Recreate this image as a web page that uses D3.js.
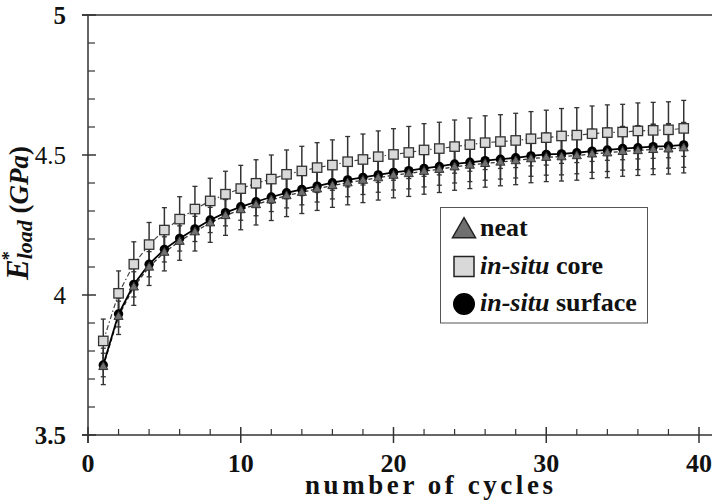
<!DOCTYPE html>
<html><head><meta charset="utf-8">
<script src="https://cdn.jsdelivr.net/npm/d3@7/dist/d3.min.js"></script>
<style>body{margin:0;background:#fff}svg{display:block}text{font-family:"Liberation Serif","Times New Roman",serif}</style>
</head><body>
<svg id="chart" width="712" height="501"></svg>
<script>
const cycles = d3.range(1, 40);
const neat = [3.745,3.924,4.029,4.100,4.153,4.192,4.226,4.258,4.284,4.305,4.323,4.340,4.355,4.367,4.379,4.391,4.401,4.410,4.419,4.428,4.434,4.442,4.449,4.458,4.464,4.470,4.475,4.480,4.487,4.492,4.494,4.498,4.504,4.508,4.513,4.516,4.520,4.522,4.526];
const neatErr = [0.065,0.065,0.066,0.066,0.067,0.068,0.069,0.070,0.071,0.072,0.073,0.074,0.075,0.076,0.077,0.078,0.079,0.080,0.080,0.081,0.082,0.082,0.083,0.084,0.084,0.085,0.085,0.086,0.086,0.087,0.087,0.088,0.088,0.089,0.089,0.089,0.090,0.090,0.090];
const core = [3.836,4.006,4.110,4.180,4.232,4.271,4.307,4.336,4.360,4.380,4.399,4.414,4.431,4.443,4.455,4.464,4.476,4.484,4.494,4.502,4.509,4.518,4.523,4.530,4.537,4.544,4.548,4.552,4.558,4.562,4.568,4.571,4.576,4.580,4.582,4.586,4.588,4.590,4.595];
const coreErr = [0.078,0.080,0.080,0.079,0.080,0.080,0.081,0.081,0.082,0.083,0.084,0.086,0.087,0.088,0.089,0.090,0.090,0.091,0.092,0.092,0.093,0.094,0.094,0.095,0.095,0.096,0.096,0.097,0.097,0.098,0.098,0.098,0.099,0.099,0.099,0.100,0.100,0.100,0.100];
const surface = [3.750,3.932,4.038,4.110,4.163,4.202,4.236,4.268,4.294,4.315,4.333,4.350,4.365,4.377,4.389,4.401,4.411,4.420,4.429,4.438,4.444,4.452,4.459,4.468,4.474,4.480,4.485,4.490,4.497,4.502,4.504,4.508,4.514,4.518,4.523,4.526,4.530,4.532,4.536];
const surfaceErr = [0.042,0.046,0.045,0.045,0.045,0.045,0.045,0.045,0.047,0.048,0.050,0.052,0.054,0.055,0.057,0.058,0.060,0.061,0.062,0.063,0.065,0.066,0.067,0.068,0.069,0.070,0.071,0.072,0.073,0.074,0.075,0.075,0.076,0.077,0.077,0.078,0.079,0.079,0.080];
const xMajor = [0,10,20,30,40];
const xMinor = [2,4,6,8,12,14,16,18,22,24,26,28,32,34,36,38];
const yMajor = [3.5,4,4.5,5];
const yMinor = [3.6,3.7,3.8,3.9,4.1,4.2,4.3,4.4,4.6,4.7,4.8,4.9];
const legendLabels = [["", "neat"], ["in-situ", " core"], ["in-situ", " surface"]];

const svg = d3.select("#chart");
const x = d3.scaleLinear().domain([0,40]).range([88,699]);
const y = d3.scaleLinear().domain([3.5,5]).range([435,15]);
const axisCol = "#333";

// frame lines
svg.append("line").attr("x1",82).attr("x2",712).attr("y1",y(5)).attr("y2",y(5)).attr("stroke",axisCol).attr("stroke-width",1.5);
svg.append("line").attr("x1",82).attr("x2",712).attr("y1",y(3.5)).attr("y2",y(3.5)).attr("stroke",axisCol).attr("stroke-width",1.5);
svg.append("line").attr("x1",x(0)).attr("x2",x(0)).attr("y1",y(5)).attr("y2",y(3.5)+8).attr("stroke",axisCol).attr("stroke-width",1.5);

// y ticks
svg.selectAll(".ymaj").data(yMajor).join("line").attr("x1",82).attr("x2",96).attr("y1",d=>y(d)).attr("y2",d=>y(d)).attr("stroke",axisCol).attr("stroke-width",1.5);
svg.selectAll(".ymin").data(yMinor).join("line").attr("x1",x(0)).attr("x2",x(0)+7).attr("y1",d=>y(d)).attr("y2",d=>y(d)).attr("stroke",axisCol).attr("stroke-width",1.2);
svg.selectAll(".ylab").data(yMajor).join("text").attr("x",66).attr("y",d=>y(d)+8.5).attr("text-anchor","end")
  .style("font-size","25px").style("font-weight",d=>(d===5||d===3.5)?"bold":"normal").attr("fill","#111").text(d=>d);

// x ticks
svg.selectAll(".xmaj").data(xMajor).join("line").attr("x1",d=>x(d)).attr("x2",d=>x(d)).attr("y1",y(3.5)-8).attr("y2",y(3.5)+8).attr("stroke",axisCol).attr("stroke-width",1.5);
svg.selectAll(".xmin").data(xMinor).join("line").attr("x1",d=>x(d)).attr("x2",d=>x(d)).attr("y1",y(3.5)-6).attr("y2",y(3.5)).attr("stroke",axisCol).attr("stroke-width",1.2);
svg.selectAll(".xlab").data(xMajor).join("text").attr("x",d=>x(d)).attr("y",472).attr("text-anchor","middle")
  .style("font-size","26px").style("font-weight","bold").attr("fill","#111").text(d=>d);

// axis titles
svg.append("text").attr("x",305).attr("y",494).attr("textLength",248).attr("lengthAdjust","spacing")
  .style("font-size","27px").style("font-weight","bold").attr("fill","#111").text("number of  cycles");
const yt = svg.append("text").attr("transform","translate(28,213) rotate(-90)").attr("text-anchor","middle").style("font-weight","bold").attr("fill","#111");
yt.append("tspan").style("font-style","italic").style("font-size","31px").text("E");
yt.append("tspan").style("font-size","18px").attr("dy",-13).attr("dx",-1).text("*");
yt.append("tspan").style("font-style","italic").style("font-size","22px").attr("dy",17).attr("dx",-8).text("load");
yt.append("tspan").style("font-size","27px").attr("dy",-4).text(" (");
yt.append("tspan").style("font-style","italic").style("font-size","27px").text("GPa");
yt.append("tspan").style("font-size","27px").text(")");

// series
const series = [
  {name:"neat", vals:neat, err:neatErr, dash:"4,2.5", lc:"#333", lw:1.3},
  {name:"surface", vals:surface, err:surfaceErr, dash:null, lc:"#000", lw:1.8},
  {name:"core", vals:core, err:coreErr, dash:"5,2.5,1.5,2.5", lc:"#444", lw:1.2}
];
const line = d3.line().x((d,i)=>x(cycles[i])).y(d=>y(d));

// error bars
series.forEach(s=>{
  const g = svg.append("g");
  cycles.forEach((c,i)=>{
    const cx = x(c), y1 = y(s.vals[i]+s.err[i]), y2 = y(s.vals[i]-s.err[i]);
    g.append("line").attr("x1",cx).attr("x2",cx).attr("y1",y1).attr("y2",y2).attr("stroke","#333").attr("stroke-width",1.5);
    g.append("line").attr("x1",cx-2.5).attr("x2",cx+2.5).attr("y1",y1).attr("y2",y1).attr("stroke","#333").attr("stroke-width",1.3);
    g.append("line").attr("x1",cx-2.5).attr("x2",cx+2.5).attr("y1",y2).attr("y2",y2).attr("stroke","#333").attr("stroke-width",1.3);
  });
});
// lines
series.forEach(s=>{
  svg.append("path").attr("d",line(s.vals)).attr("fill","none").attr("stroke",s.lc).attr("stroke-width",s.lw).attr("stroke-dasharray",s.dash);
});
// markers
const tri = d3.symbol().type(d3.symbolTriangle);
svg.selectAll(".circ").data(surface).join("circle").attr("cx",(d,i)=>x(cycles[i])).attr("cy",d=>y(d)).attr("r",4.7).attr("fill","#000");
svg.selectAll(".tri").data(neat).join("path").attr("d",tri.size(36)()).attr("transform",(d,i)=>`translate(${x(cycles[i])},${y(d)+0.5})`).attr("fill","#707070").attr("stroke","#333").attr("stroke-width",1);
svg.selectAll(".sq").data(core).join("rect").attr("x",(d,i)=>x(cycles[i])-4.7).attr("y",d=>y(d)-4.7).attr("width",9.4).attr("height",9.4).attr("fill","#d9d9d9").attr("stroke","#333").attr("stroke-width",1.3);

// legend
const lg = svg.append("g");
lg.append("rect").attr("x",440.5).attr("y",207.5).attr("width",207).attr("height",115.5).attr("fill","#fff").attr("stroke","#555").attr("stroke-width",1);
const ly = [229, 266.5, 304];
lg.append("path").attr("d",d3.symbol().type(d3.symbolTriangle).size(230)()).attr("transform",`translate(464,${ly[0]+2})`).attr("fill","#707070").attr("stroke","#222").attr("stroke-width",1.5);
lg.append("rect").attr("x",454).attr("y",ly[1]-10).attr("width",20).attr("height",20).attr("fill","#d9d9d9").attr("stroke","#222").attr("stroke-width",1.5);
lg.append("circle").attr("cx",464).attr("cy",ly[2]).attr("r",11).attr("fill","#000");
legendLabels.forEach((l,i)=>{
  const t = lg.append("text").attr("x",480).attr("y",ly[i]+7).style("font-size","26px").style("font-weight","bold").attr("fill","#111");
  if (l[0]) t.append("tspan").style("font-style","italic").text(l[0]);
  t.append("tspan").text(l[1]);
});
</script>
</body></html>
